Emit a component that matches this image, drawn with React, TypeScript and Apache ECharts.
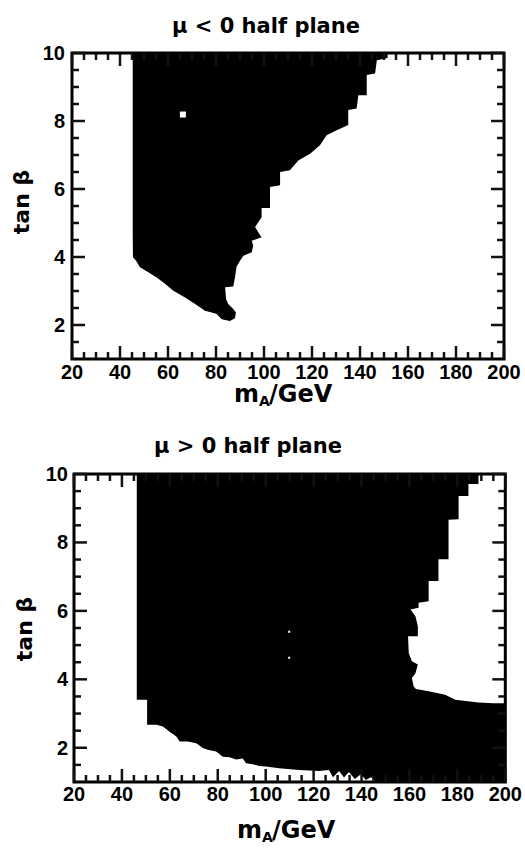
import React, { useEffect, useRef } from "react";
import * as echarts from "echarts";

// ---- axes ----
const X_MIN = 20;
const X_MAX = 200;
const X_STEP = 20;
const Y_MIN = 1;
const Y_MAX = 10;
const X_MAJOR_TICKS = [20, 40, 60, 80, 100, 120, 140, 160, 180, 200];
const X_MINOR_TICKS = [25, 30, 35, 45, 50, 55, 65, 70, 75, 85, 90, 95, 105, 110, 115, 125, 130, 135, 145, 150, 155, 165, 170, 175, 185, 190, 195];
const Y_MAJOR_TICKS = [2, 4, 6, 8, 10];
const Y_MINOR_TICKS = [1.5, 2.5, 3, 3.5, 4.5, 5, 5.5, 6.5, 7, 7.5, 8.5, 9, 9.5];

// ---- texts ----
const TITLE_NEG = "\u03bc < 0 half plane";
const TITLE_POS = "\u03bc > 0 half plane";
const Y_NAME = "tan \u03b2";
const X_NAME_MAIN = "m";
const X_NAME_SUB = "A";
const X_NAME_TAIL = "/GeV";

// ---- excluded region, mu < 0 (mA [GeV], tan beta) ----
const NEG_MU_REGION: [number, number][] = [
  [45.3, 10], [151.5, 10], [151.5, 9.85], [147.0, 9.79], [146.3, 9.40], [142.8, 9.35],
  [142.8, 8.76], [139.3, 8.76], [138.6, 8.37], [135.1, 8.32], [135.1, 7.88], [130.3, 7.73],
  [126.1, 7.58], [123.3, 7.29], [119.2, 7.04], [114.3, 6.84], [110.8, 6.55], [106.7, 6.50],
  [106.7, 6.11], [102.5, 6.06], [102.5, 5.44], [99.0, 5.44], [99.0, 5.17], [96.3, 4.88],
  [97.6, 4.73], [99.0, 4.58], [94.9, 4.48], [95.5, 4.34], [94.9, 4.14], [91.4, 4.04],
  [90.0, 3.89], [88.6, 3.72], [87.9, 3.40], [87.2, 3.13], [83.8, 3.11], [84.2, 2.76],
  [85.1, 2.62], [87.2, 2.47], [88.3, 2.37], [87.9, 2.20], [85.8, 2.12], [82.4, 2.17],
  [80.3, 2.32], [78.2, 2.37], [75.4, 2.42], [71.3, 2.62], [67.1, 2.81], [62.2, 3.01],
  [58.75, 3.21], [55.3, 3.40], [51.8, 3.55], [48.3, 3.70], [46.7, 3.89], [45.4, 3.99],
  [45.3, 4.69],
];
const NEG_MU_HOLES: [number, number][] = [[66.2, 8.19]];

// ---- excluded region, mu > 0 ----
const POS_MU_REGION: [number, number][] = [
  [46.2, 10], [188.8, 10], [188.8, 9.71], [184.6, 9.71], [184.6, 9.36], [180.5, 9.36],
  [180.5, 8.68], [176.3, 8.66], [176.3, 7.51], [172.1, 7.51], [172.1, 6.87], [168.0, 6.87],
  [168.0, 6.28], [163.8, 6.24], [163.8, 6.09], [160.4, 6.04], [162.5, 5.84], [163.5, 5.55],
  [163.5, 5.26], [159.4, 5.26], [159.7, 4.77], [161.0, 4.53], [163.5, 4.43], [162.5, 4.18],
  [161.0, 4.04], [161.75, 3.79], [162.7, 3.72], [168.0, 3.65], [174.9, 3.55], [179.1, 3.40],
  [188.8, 3.32], [195.0, 3.30], [200, 3.30], [200, 1], [146.4, 1],
  [143.9, 1.14], [141.8, 1.06], [139.7, 1.23], [137.2, 1.09], [134.7, 1.29], [132.7, 1.13],
  [130.6, 1.32], [128.1, 1.14], [126.4, 1.35], [122.3, 1.32], [113.9, 1.35], [105.6, 1.40],
  [100.1, 1.45], [97.3, 1.47], [94.5, 1.52], [91.8, 1.55], [90.4, 1.69], [87.6, 1.66],
  [84.85, 1.72], [82.1, 1.74], [79.3, 1.89], [75.8, 1.94], [73.75, 1.99], [71.0, 2.13],
  [67.5, 2.18], [64.1, 2.18], [62.7, 2.33], [59.9, 2.47], [57.1, 2.62], [54.4, 2.67],
  [50.5, 2.67], [50.5, 3.40], [46.2, 3.40],
];
const POS_MU_HOLES: [number, number][] = [[109.8, 5.39], [109.8, 4.63]];

const TICK_FONT = '"Liberation Sans", Arial, sans-serif';
const TEXT_FONT = '"DejaVu Sans", sans-serif';
const TICK_COLOR = "#111111";

// excluded region + holes + mirrored inside ticks, all placed through the axes (api.coord)
function panelSeries(points: [number, number][], holes: [number, number][], holeSize: number) {
  return {
    type: "custom",
    xAxisIndex: 0,
    yAxisIndex: 0,
    clip: false,
    data: points,
    renderItem: (params: any, api: any) => {
      if (params.dataIndex !== 0) return null;
      const children: any[] = [];
      children.push({ type: "polygon", shape: { points: points.map((p) => api.coord(p)) }, style: { fill: "#000" } });
      holes.forEach((h) => {
        const c = api.coord(h);
        children.push({ type: "rect", shape: { x: c[0] - holeSize / 2, y: c[1] - holeSize / 2, width: holeSize, height: holeSize }, style: { fill: "#fff" } });
      });
      const w = 2.5;
      const addX = (vals: number[], len: number) => {
        vals.forEach((v) => {
          const b = api.coord([v, Y_MIN]);
          const t = api.coord([v, Y_MAX]);
          children.push({ type: "rect", shape: { x: b[0] - w / 2, y: b[1] - len, width: w, height: len }, style: { fill: TICK_COLOR } });
          children.push({ type: "rect", shape: { x: t[0] - w / 2, y: t[1], width: w, height: len }, style: { fill: TICK_COLOR } });
        });
      };
      const addY = (vals: number[], len: number) => {
        vals.forEach((v) => {
          const l = api.coord([X_MIN, v]);
          const r = api.coord([X_MAX, v]);
          children.push({ type: "rect", shape: { x: l[0], y: l[1] - w / 2, width: len, height: w }, style: { fill: TICK_COLOR } });
          children.push({ type: "rect", shape: { x: r[0] - len, y: r[1] - w / 2, width: len, height: w }, style: { fill: TICK_COLOR } });
        });
      };
      addX(X_MAJOR_TICKS, 13);
      addX(X_MINOR_TICKS, 7);
      addY(Y_MAJOR_TICKS, 13);
      addY(Y_MINOR_TICKS, 7);
      return { type: "group", children };
    },
    z: 2,
  };
}

function text(x: number, y: number, str: string, font: string, align: string, rotation = 0) {
  return {
    type: "text",
    x,
    y,
    rotation,
    style: { text: str, font, fill: "#000", textAlign: align, textVerticalAlign: "middle" },
  };
}

function xNameGraphics(left: number, centerY: number) {
  const main = `bold 24px ${TEXT_FONT}`;
  const sub = `bold 14px ${TEXT_FONT}`;
  return [
    text(left, centerY, X_NAME_MAIN, main, "left"),
    text(left + 25, centerY + 7, X_NAME_SUB, sub, "left"),
    text(left + 35, centerY, X_NAME_TAIL, main, "left"),
  ];
}

type PanelCfg = {
  title: string;
  titleX: number;
  grid: { left: number; top: number; width: number; height: number };
  xLabelMargin: number;
  yLabelMargin: number;
  yNamePos: [number, number];
  xNamePos: [number, number];
  region: [number, number][];
  holes: [number, number][];
  holeSize: number;
};

function buildOption(cfg: PanelCfg) {
  return {
    animation: false,
    backgroundColor: "#fff",
    grid: [{ show: true, borderColor: "#000", borderWidth: 3, ...cfg.grid }],
    xAxis: [
      {
        type: "value",
        min: X_MIN,
        max: X_MAX,
        interval: X_STEP,
        splitLine: { show: false },
        axisLine: { show: false },
        axisTick: { show: false },
        axisLabel: {
          margin: cfg.xLabelMargin,
          color: "#000",
          fontFamily: TICK_FONT,
          fontWeight: "bold",
          fontSize: 20,
        },
      },
    ],
    yAxis: [
      {
        type: "value",
        min: Y_MIN,
        max: Y_MAX,
        splitLine: { show: false },
        axisLine: { show: false },
        axisTick: { show: false },
        axisLabel: {
          customValues: Y_MAJOR_TICKS,
          margin: cfg.yLabelMargin,
          color: "#000",
          fontFamily: TICK_FONT,
          fontWeight: "bold",
          fontSize: 20,
        },
      },
    ],
    series: [panelSeries(cfg.region, cfg.holes, cfg.holeSize)],
    graphic: [
      text(cfg.titleX, 26, cfg.title, `bold 21px ${TEXT_FONT}`, "center"),
      text(cfg.yNamePos[0], cfg.yNamePos[1], Y_NAME, `bold 22px ${TEXT_FONT}`, "center", Math.PI / 2),
      ...xNameGraphics(cfg.xNamePos[0], cfg.xNamePos[1]),
    ],
  };
}

const PANEL_NEG: PanelCfg = {
  title: TITLE_NEG,
  titleX: 266,
  grid: { left: 72, top: 53, width: 432, height: 306 },
  xLabelMargin: 3,
  yLabelMargin: 7,
  yNamePos: [21, 202],
  xNamePos: [234, 394],
  region: NEG_MU_REGION,
  holes: NEG_MU_HOLES,
  holeSize: 6,
};

const PANEL_POS: PanelCfg = {
  title: TITLE_POS,
  titleX: 248,
  grid: { left: 74, top: 54, width: 433, height: 308 },
  xLabelMargin: 2,
  yLabelMargin: 6,
  yNamePos: [24, 209],
  xNamePos: [237, 410],
  region: POS_MU_REGION,
  holes: POS_MU_HOLES,
  holeSize: 2,
};

function Panel({ cfg, top, height }: { cfg: PanelCfg; top: number; height: number }) {
  const ref = useRef<HTMLDivElement>(null);
  useEffect(() => {
    if (!ref.current) return;
    const chart = echarts.init(ref.current, null, { renderer: "svg" });
    chart.setOption(buildOption(cfg) as any);
    return () => chart.dispose();
  }, [cfg]);
  return <div ref={ref} style={{ position: "absolute", left: 0, top, width: 525, height, background: "#fff" }} />;
}

export default function App() {
  return (
    <div style={{ position: "absolute", left: 0, top: 0, width: 525, height: 853, background: "#fff" }}>
      <Panel cfg={PANEL_NEG} top={0} height={420} />
      <Panel cfg={PANEL_POS} top={420} height={433} />
    </div>
  );
}
